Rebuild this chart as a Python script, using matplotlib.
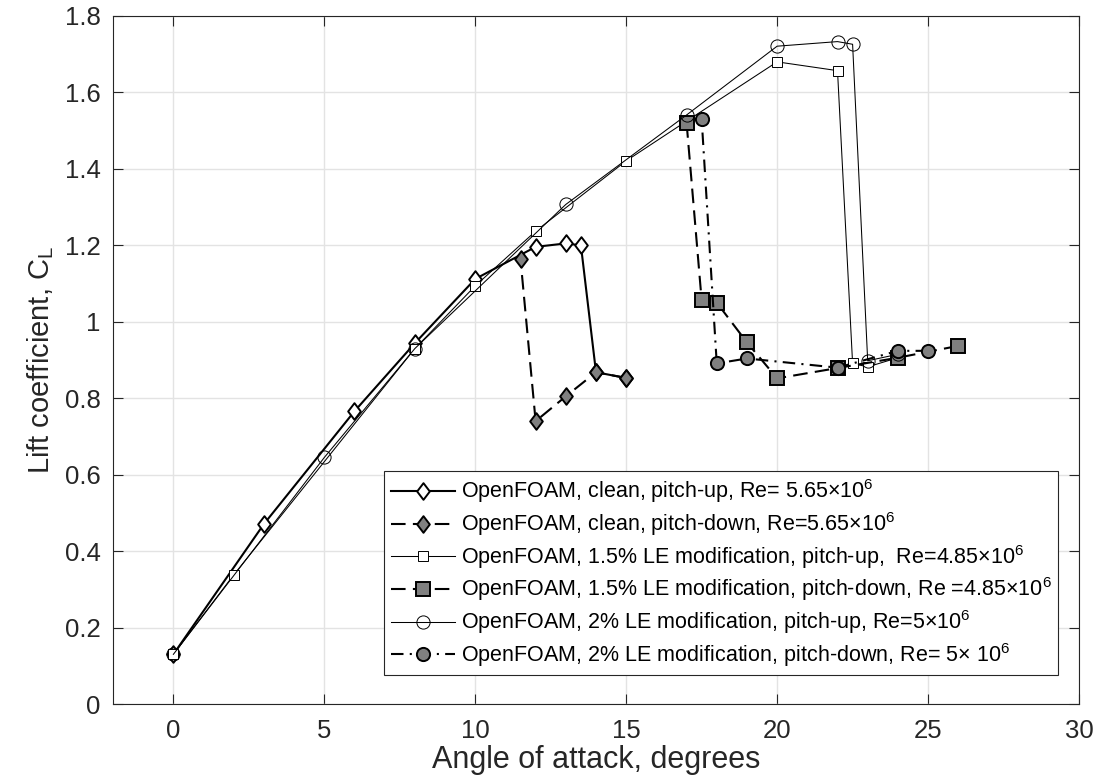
import matplotlib
matplotlib.use("Agg")
import matplotlib.pyplot as plt
from matplotlib.path import Path

plt.rcParams['font.family'] = ['Liberation Sans', 'DejaVu Sans']
plt.rcParams['mathtext.fontset'] = 'custom'
plt.rcParams['mathtext.rm'] = 'Liberation Sans'
plt.rcParams['mathtext.it'] = 'Liberation Sans:italic'

# clean airfoil
clean_up_aoa = [0, 3, 6, 8, 10, 12, 13, 13.5, 14, 15]
clean_up_cl = [0.13, 0.471, 0.766, 0.944, 1.112, 1.196, 1.205, 1.20, 0.868, 0.853]
clean_dn_aoa = [15, 14, 13, 12, 11.5]
clean_dn_cl = [0.853, 0.868, 0.805, 0.74, 1.163]

# 1.5% LE modification
le15_up_aoa = [0, 2, 8, 10, 12, 15, 17, 20, 22, 22.5, 23, 24]
le15_up_cl = [0.13, 0.338, 0.93, 1.094, 1.237, 1.421, 1.525, 1.680, 1.657, 0.891, 0.882, 0.906]
le15_dn_aoa = [26, 24, 22, 20, 19, 18, 17.5, 17]
le15_dn_cl = [0.937, 0.906, 0.879, 0.852, 0.946, 1.050, 1.056, 1.521]

# 2% LE modification
le2_up_aoa = [0, 5, 8, 13, 17, 20, 22, 22.5, 23, 24]
le2_up_cl = [0.13, 0.645, 0.93, 1.307, 1.541, 1.721, 1.733, 1.726, 0.898, 0.915]
le2_dn_aoa = [25, 24, 22, 19, 18, 17.5]
le2_dn_cl = [0.924, 0.924, 0.88, 0.904, 0.891, 1.53]

labels = [
    r'OpenFOAM, clean, pitch-up, Re= 5.65$\times$10$^6$',
    r'OpenFOAM, clean, pitch-down, Re=5.65$\times$10$^6$',
    r'OpenFOAM, 1.5% LE modification, pitch-up,  Re=4.85$\times$10$^6$',
    r'OpenFOAM, 1.5% LE modification, pitch-down, Re =4.85$\times$10$^6$',
    r'OpenFOAM, 2% LE modification, pitch-up, Re=5$\times$10$^6$',
    r'OpenFOAM, 2% LE modification, pitch-down, Re= 5$\times$ 10$^6$',
]

grey = '#808080'
dk = '#262626'
# matlab style diamond, a bit taller than wide
diamond = Path([(0, 1), (0.76, 0), (0, -1), (-0.76, 0), (0, 1)],
               [Path.MOVETO, Path.LINETO, Path.LINETO, Path.LINETO, Path.CLOSEPOLY])
dashed = (0, (7, 3.5))
dashdot = (0, (6, 3, 1, 3))

fig = plt.figure(figsize=(10.97, 7.8), dpi=100)
ax = fig.add_axes([0.103, 0.0974, 0.8806, 0.8821])

ax.plot(clean_up_aoa, clean_up_cl, color='k', lw=1.5, ls='-', marker=diamond, ms=12,
        mfc='white', mec='k', mew=1.4, label=labels[0])
ax.plot(clean_dn_aoa, clean_dn_cl, color='k', lw=1.5, ls=dashed, marker=diamond, ms=12,
        mfc=grey, mec='k', mew=1.4, label=labels[1])
ax.plot(le15_up_aoa, le15_up_cl, color='k', lw=0.75, ls='-', marker='s', ms=7,
        mfc='white', mec='k', mew=0.7, label=labels[2])
ax.plot(le15_dn_aoa, le15_dn_cl, color='k', lw=1.5, ls=dashed, marker='s', ms=10,
        mfc=grey, mec='k', mew=1.4, label=labels[3])
ax.plot(le2_up_aoa, le2_up_cl, color='k', lw=0.75, ls='-', marker='o', ms=9.5,
        mfc='none', mec='k', mew=0.7, label=labels[4])
ax.plot(le2_dn_aoa, le2_dn_cl, color='k', lw=1.5, ls=dashdot, marker='o', ms=9.5,
        mfc=grey, mec='k', mew=1.4, label=labels[5])

ax.set_xlim(-2, 30)
ax.set_ylim(0, 1.8)
xticks = [0, 5, 10, 15, 20, 25, 30]
yticks = [0, 0.2, 0.4, 0.6, 0.8, 1.0, 1.2, 1.4, 1.6, 1.8]
ytick_labels = ['0', '0.2', '0.4', '0.6', '0.8', '1', '1.2', '1.4', '1.6', '1.8']
ax.set_xticks(xticks)
ax.set_yticks(yticks)
ax.set_yticklabels(ytick_labels)
ax.tick_params(direction='in', top=True, right=True, labelsize=18.5, length=7,
               width=0.8, colors=dk)
ax.tick_params(axis='y', pad=9)
ax.tick_params(axis='x', pad=11)
ax.grid(True, color='#e3e3e3', lw=1)
ax.set_axisbelow(True)
for s in ax.spines.values():
    s.set_linewidth(0.8)
    s.set_color(dk)

ax.set_xlabel('Angle of attack, degrees', fontsize=22, labelpad=1, color=dk)
ax.set_ylabel('Lift coefficient, C$_\\mathregular{L}$', fontsize=21, labelpad=6, color=dk)

leg = ax.legend(loc='lower right', bbox_to_anchor=(0.978, 0.042), borderaxespad=0,
                fontsize=15.5, handlelength=3.0, fancybox=False, edgecolor=dk,
                framealpha=1, borderpad=0.3, labelspacing=0.22, handletextpad=0.25)
leg.get_frame().set_linewidth(0.8)

fig.savefig('out.png', dpi=100)
